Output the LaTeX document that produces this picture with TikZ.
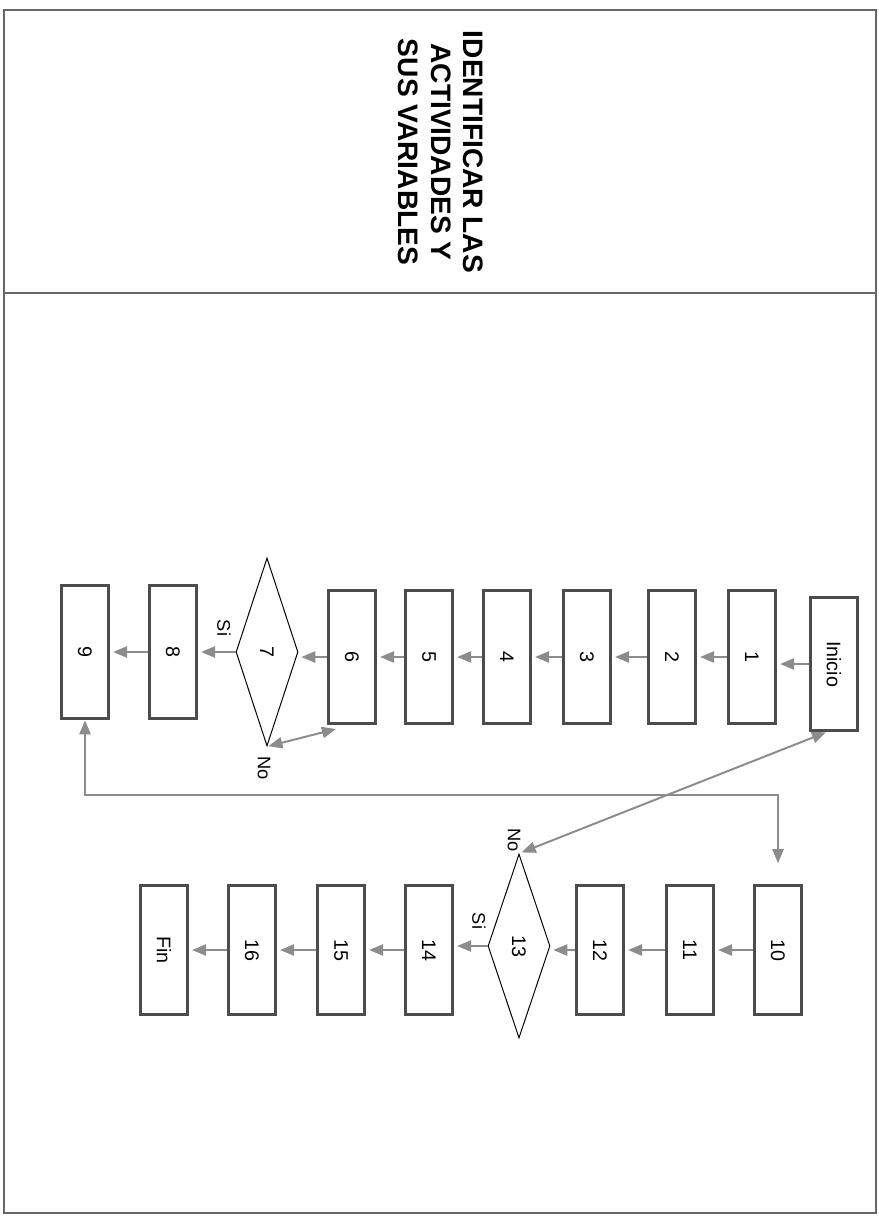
\documentclass[tikz,border=0pt]{standalone}
\usepackage{fontspec}
\setmainfont{Liberation Sans}
\usepackage{tikz}
\usetikzlibrary{arrows.meta,shapes.geometric,calc}

\begin{document}
\begin{tikzpicture}[x=0.025cm,y=-0.025cm]
  \tikzstyle{paso}=[rectangle,draw=black!70,line width=2.4pt,minimum width=1.18cm,minimum height=3.33cm,inner sep=0pt,font=\fontsize{14}{16}\selectfont]
  \tikzstyle{decision}=[diamond,draw,line width=0.7pt,minimum width=1.55cm,minimum height=4.7cm,inner sep=0pt,font=\fontsize{14}{16}\selectfont]
  \tikzstyle{flecha}=[draw=black!45,line width=1.4pt,-{Triangle[length=10pt,width=8pt]},shorten >=2pt]
  \tikzstyle{doble}=[flecha,{Triangle[length=10pt,width=8pt]}-{Triangle[length=10pt,width=8pt]}]
  \tikzstyle{rotulo}=[rotate=-90,font=\fontsize{13}{15}\selectfont,inner sep=1pt]
  \useasboundingbox (0,0) rectangle (879,1216);
  % marco de la hoja
  \draw[black!60,line width=0.8pt] (4,10) rectangle (876,1213);
  \draw[black!60,line width=0.8pt] (4,293) -- (876,293);
  \node[rotate=-90,align=center,font=\fontsize{20}{23}\selectfont\bfseries] (titulo) at (441,152)
    {IDENTIFICAR LAS\\ACTIVIDADES Y\\SUS VARIABLES};
  % primera fila
  \foreach \nombre/\x/\y/\texto in {ini/834/664/Inicio,n1/752/657/1,n2/672/657/2,n3/587/657/3,
      n4/507/657/4,n5/429/657/5,n6/352/657/6,n8/173/652/8,n9/85/652/9}
    \node[paso] (\nombre) at (\x,\y) {\rotatebox{-90}{\texto}};
  \node[decision] (d7) at (267,652) {\rotatebox{-90}{7}};
  % segunda fila
  \foreach \nombre/\x/\texto in {n10/778/10,n11/690/11,n12/600/12,n14/429/14,n15/341/15,n16/252/16,fin/164/Fin}
    \node[paso,minimum height=3.23cm] (\nombre) at (\x,950) {\rotatebox{-90}{\texto}};
  \node[decision,minimum height=4.6cm] (d13) at (519,946) {\rotatebox{-90}{13}};
  % flechas
  \foreach \a/\b in {ini/n1,n1/n2,n2/n3,n3/n4,n4/n5,n5/n6,n6/d7,d7/n8,n8/n9,
      n10/n11,n11/n12,n12/d13,d13/n14,n14/n15,n15/n16,n16/fin}
    \draw[flecha] (\a.west) -- (\a.west -| \b.east);
  \node[rotulo] (si7) at (224,628) {Si};
  \node[rotulo] (no7) at (264,768) {No};
  \node[rotulo] (si13) at (479,921) {Si};
  \node[rotulo] (no13) at (514,840) {No};
  \draw[doble,shorten <=1pt] (d7.south) -- ($(n6.south west)+(12,3)$);
  \draw[doble] ($(ini.south)+(-8,0)$) -- (d13.north);
  \coordinate (giro) at (778,795);
  \coordinate (e10) at (778,866);
  \draw[doble] (n9.south) |- (giro) -- (e10);
\end{tikzpicture}
\end{document}
